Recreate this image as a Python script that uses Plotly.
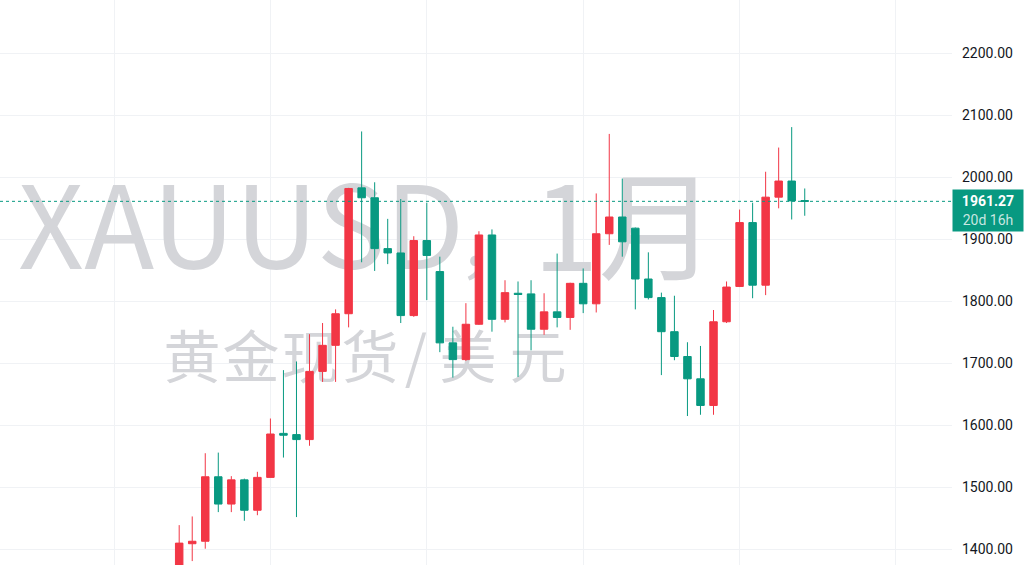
import plotly.graph_objects as go

# ---- data (monthly XAUUSD) ----
months = ["2019-06", "2019-07", "2019-08", "2019-09", "2019-10", "2019-11", "2019-12",
          "2020-01", "2020-02", "2020-03", "2020-04", "2020-05", "2020-06", "2020-07",
          "2020-08", "2020-09", "2020-10", "2020-11", "2020-12",
          "2021-01", "2021-02", "2021-03", "2021-04", "2021-05", "2021-06", "2021-07",
          "2021-08", "2021-09", "2021-10", "2021-11", "2021-12",
          "2022-01", "2022-02", "2022-03", "2022-04", "2022-05", "2022-06", "2022-07",
          "2022-08", "2022-09", "2022-10", "2022-11", "2022-12",
          "2023-01", "2023-02", "2023-03", "2023-04", "2023-05", "2023-06"]
opens = [1305, 1409, 1413, 1517, 1473, 1512, 1463,
         1516, 1587, 1585, 1577, 1687, 1729, 1780,
         1983, 1967, 1885, 1878, 1777,
         1898, 1848, 1733, 1706, 1763, 1907, 1771,
         1813, 1812, 1755, 1783, 1774,
         1829, 1796, 1909, 1936, 1918, 1836, 1806,
         1751, 1711, 1675, 1632, 1767,
         1824, 1927, 1826, 1968, 1994, 1962.5]
highs = [1439, 1453, 1555, 1556, 1518, 1514, 1525,
         1611, 1689, 1703, 1747, 1765, 1787, 1983,
         2074, 1992, 1933, 1965, 1905,
         1959, 1872, 1759, 1797, 1913, 1916, 1834,
         1832, 1834, 1813, 1877, 1830,
         1853, 1974, 2070, 1998, 1919, 1879, 1814,
         1809, 1734, 1728, 1786, 1832,
         1948, 1959, 2009, 2048, 2081, 1982]
lows = [1267, 1381, 1401, 1460, 1460, 1446, 1455,
        1516, 1548, 1452, 1567, 1670, 1670, 1758,
        1863, 1849, 1860, 1765, 1775,
        1802, 1718, 1677, 1704, 1762, 1751, 1766,
        1678, 1721, 1746, 1758, 1754,
        1781, 1782, 1891, 1872, 1787, 1803, 1681,
        1705, 1615, 1617, 1617, 1765,
        1823, 1805, 1810, 1950, 1932, 1938]
closes = [1410, 1413, 1517, 1473, 1512, 1463, 1516,
          1586, 1584, 1577, 1687, 1729, 1780, 1982,
          1967, 1885, 1878, 1777, 1898,
          1874, 1733, 1706, 1763, 1907, 1771, 1814,
          1811, 1755, 1783, 1774, 1829,
          1796, 1909, 1936, 1896, 1836, 1806, 1751,
          1711, 1675, 1632, 1767, 1823,
          1927, 1826, 1968, 1994, 1962, 1961.27]

price_ticks = [1400, 1500, 1600, 1700, 1800, 1900, 2000, 2100, 2200]
year_starts = ["2019-01", "2020-01", "2021-01", "2022-01", "2023-01", "2024-01"]
last_price = closes[-1]
countdown = "20d 16h"
title_parts = ["XAUUSD", "，", "1月"]
subtitle_chars = ["黄", "金", "现", "货", "/", "美", "元"]

UP = "#F23645"
DOWN = "#089981"
WM = "#d4d5d9"

W, H, R_MARGIN = 1024, 565, 72
PLOT_W = W - R_MARGIN


def month_pos(s):
    y, m = s.split("-")
    return (int(y) - 2019) * 12 + int(m) - 1


xs = [month_pos(m) for m in months]
year_pos = [month_pos(m) for m in year_starts]

# watermark layout (fractions of the plot area)
title_x = [18 / PLOT_W, 458 / PLOT_W, 533 / PLOT_W]
title_y = [1 - 240 / H, 1 - 254 / H, 1 - 241 / H]
title_sizes = [115, 72, 118]
sub_cx = [192, 251, 310, 370, 416, 468, 538]
sub_x = [c / PLOT_W for c in sub_cx]
sub_y = 1 - 364 / H

fig = go.Figure()

# watermark on the base axes (drawn below the candles)
fig.add_trace(go.Scatter(
    x=title_x, y=title_y, mode="text", text=title_parts,
    textposition="middle right",
    textfont=dict(family="Noto Sans CJK SC", size=title_sizes, color=WM),
    hoverinfo="skip", showlegend=False, xaxis="x", yaxis="y"))
fig.add_trace(go.Scatter(
    x=sub_x, y=[sub_y] * len(sub_x), mode="text", text=subtitle_chars,
    textposition="middle center",
    textfont=dict(family="Noto Sans CJK SC", size=57, color=WM),
    hoverinfo="skip", showlegend=False, xaxis="x", yaxis="y"))

fig.add_trace(go.Candlestick(
    x=xs, open=opens, high=highs, low=lows, close=closes,
    increasing=dict(line=dict(color=UP, width=1), fillcolor=UP),
    decreasing=dict(line=dict(color=DOWN, width=1), fillcolor=DOWN),
    whiskerwidth=0, showlegend=False, xaxis="x2", yaxis="y2"))

fig.add_shape(type="line", xref="paper", x0=0, x1=1, yref="y2",
              y0=last_price, y1=last_price,
              line=dict(color=DOWN, width=1, dash="dot"), layer="above")

fig.add_annotation(
    xref="paper", x=1, xanchor="left", yref="y2", y=last_price, yanchor="top",
    yshift=12, showarrow=False, align="center",
    text=f"<b>{last_price:.2f}</b><br><span style='color:rgba(255,255,255,0.78)'>{countdown}</span>",
    font=dict(family="Roboto", size=14, color="#ffffff"),
    bgcolor=DOWN, width=66, height=37, borderpad=2)

fig.update_layout(
    width=W, height=H,
    margin=dict(l=0, r=R_MARGIN, t=0, b=0),
    paper_bgcolor="#ffffff", plot_bgcolor="#ffffff",
    boxgap=0.18,
    xaxis=dict(range=[0, 1], visible=False, fixedrange=True),
    yaxis=dict(range=[0, 1], visible=False, fixedrange=True),
    xaxis2=dict(overlaying="x", range=[-8.75, 64.3], tickvals=year_pos,
                showticklabels=False, showgrid=True, gridcolor="#f0f2f5",
                gridwidth=1, zeroline=False, rangeslider=dict(visible=False),
                showline=False, anchor="y2"),
    yaxis2=dict(overlaying="y", side="right", anchor="x2", range=[1374.7, 2286.0],
                tickvals=price_ticks, tickformat=".2f", showgrid=True,
                gridcolor="#f0f2f5", gridwidth=1, zeroline=False, showline=False,
                ticks="", ticklabelstandoff=9,
                tickfont=dict(family="Roboto", size=14, color="#131722")),
)

fig.write_html("out.html", config={"displayModeBar": False},
               post_script="document.body.style.margin='0';document.body.style.overflow='hidden';")
